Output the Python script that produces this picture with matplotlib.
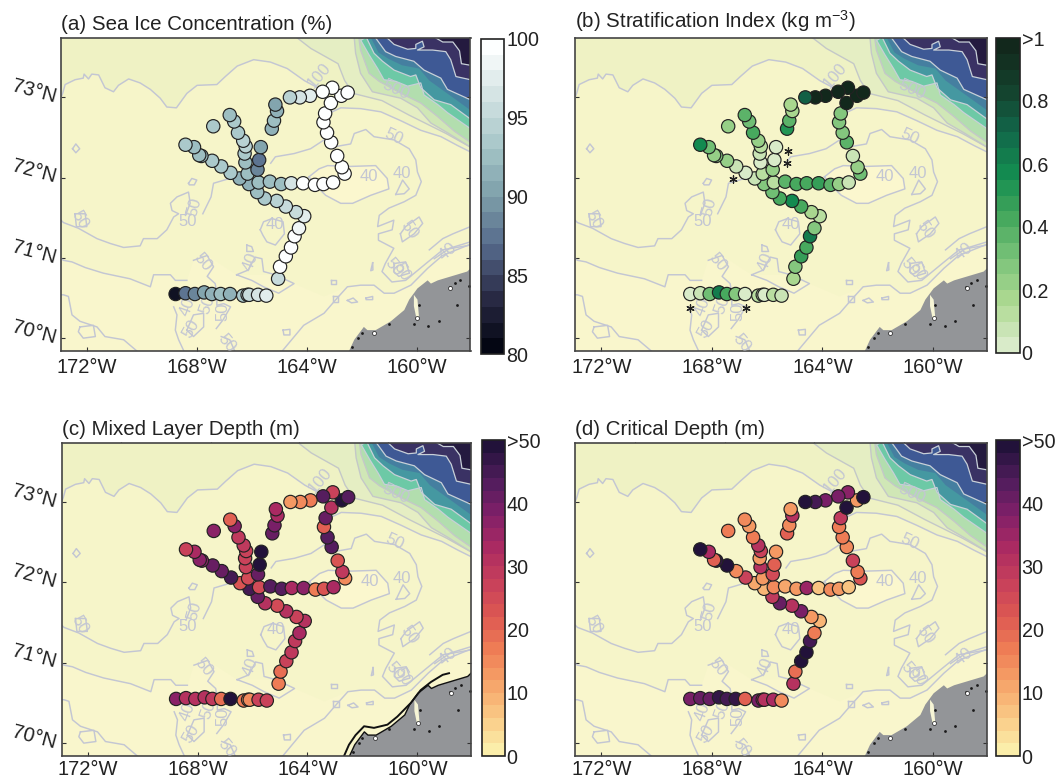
import numpy as np
import matplotlib
matplotlib.use('Agg')
import matplotlib.pyplot as plt
from matplotlib.colors import LinearSegmentedColormap

plt.rcParams['font.family'] = ['Liberation Sans', 'DejaVu Sans']
plt.rcParams['mathtext.default'] = 'regular'

# stations: bottom leg, long NW leg, E-W leg, east leg, three branches, single one
station_lon = [-168.78, -168.42, -168.08, -167.74, -167.46, -167.14, -166.80, -166.32, -166.16, -166.10, -165.78, -165.48,
               -165.05, -164.98, -164.77, -164.58, -164.45, -164.29, -164.10, -164.40, -164.77, -165.10, -165.54,
               -165.81, -166.11, -166.45, -166.78, -167.12, -167.45, -167.84, -167.92, -168.11, -168.42,
               -165.76, -165.35, -164.94, -164.57, -164.14, -163.71, -163.40, -163.05,
               -162.63, -162.73, -162.90, -163.12, -163.27, -163.40, -163.34, -163.13, -162.75, -162.52, -163.08, -163.43, -163.89, -164.26, -164.62,
               -165.28, -165.20, -165.09, -165.15,
               -166.16, -165.80, -165.74, -165.68,
               -166.24, -166.27, -166.23, -166.32, -166.51, -166.65, -166.81,
               -167.41]
station_lat = [70.55, 70.56, 70.55, 70.57, 70.55, 70.55, 70.55, 70.53, 70.54, 70.54, 70.54, 70.53,
               70.74, 70.89, 71.02, 71.13, 71.27, 71.37, 71.52, 71.57, 71.64, 71.71, 71.74,
               71.82, 71.92, 71.99, 72.06, 72.14, 72.21, 72.27, 72.28, 72.38, 72.41,
               71.94, 71.95, 71.92, 71.93, 71.93, 71.91, 71.92, 71.94,
               72.05, 72.13, 72.27, 72.44, 72.56, 72.69, 72.80, 72.93, 73.02, 73.06, 73.12, 73.07, 73.02, 73.00, 73.00,
               72.61, 72.71, 72.83, 72.91,
               72.05, 72.10, 72.22, 72.38,
               72.19, 72.30, 72.39, 72.46, 72.56, 72.70, 72.78,
               72.64]

ice_conc = [81, 87, 88, 90, 91.5, 92, 91, 93, 94, 95, 96, 97.5,
            95, 100, 100, 100, 99, 98, 97, 95.5, 95, 94, 93,
            92, 91, 91, 93, 93, 93, 92, 92, 92.5, 93,
            92.5, 92.5, 92, 96, 100, 100, 100, 100,
            100, 100, 100, 100, 100, 100, 100, 100, 100, 100, 100, 99.5, 97.5, 96.5, 94,
            91.5, 92, 91.5, 90.5,
            92, 88.5, 87.5, 90,
            92.5, 93.5, 94, 94, 93.5, 93, 92,
            93]
strat_index = [0.03, 0.08, 0.30, 0.60, 0.42, 0.25, 0.03, 0.10, 0.05, 0.04, 0.12, 0.08,
               0.18, 0.28, 0.47, 0.40, 0.62, 0.25, 0.12, 0.15, 0.42, 0.55, 0.42,
               0.33, 0.28, 0.07, 0.04, 0.05, 0.20, 0.25, 0.20, 0.30, 0.55,
               0.13, 0.38, 0.40, 0.42, 0.45, 0.35, 0.22, 0.05,
               0.30, 0.20, 0.07, 0.35, 0.28, 0.28, 0.28, 1.0, 0.98, 1.0, 1.0, 1.0, 1.0, 1.0, 0.70,
               0.52, 0.38, 0.15, 0.15,
               0.13, 0.20, 0.04, 0.04,
               0.04, 0.05, 0.12, 0.20, 0.40, 0.30, 0.35,
               0.22]
mixed_layer = [37, 31, 30, 30, 28, 18, 50, 17, 14, 14, 27, 27,
               16, 18, 26, 29, 28, 33, 30, 27, 30, 25, 30,
               41, 44, 22, 44, 40, 40, 37, 36, 32, 27,
               25, 43, 42, 33, 37, 17, 22, 33,
               14, 28, 22, 42, 43, 21, 40, 30, 50, 42, 27, 42, 17, 14, 12,
               41, 38, 33, 32,
               25, 40, 50, 50,
               27, 26, 27, 29, 28, 37, 20,
               36]
critical_depth = [38, 40, 40, 47, 44, 47, 20, 38, 33, 30, 32, 14,
                  30, 18, 50, 48, 45, 17, 9, 12, 38, 30, 40,
                  28, 9, 11, 27, 14, 48, 46, 20, 33, 50,
                  15, 11, 12, 34, 7, 14, 13, 7,
                  22, 17, 27, 14, 16, 17, 28, 50, 12, 50, 36, 38, 38, 44, 50,
                  20, 14, 30, 12,
                  13, 25, 21, 13,
                  30, 13, 27, 30, 16, 12, 14,
                  17]

# stations flagged with an asterisk in panel b
star_lon = [-165.26, -165.30, -167.24, -168.79, -166.78]
star_lat = [72.33, 72.18, 71.98, 70.38, 70.38]

# isobaths
north_shelf = [(-172.95, 73.00), (-172.89, 73.05), (-172.80, 73.16), (-172.44, 73.22), (-172.14, 73.24), (-172.11, 73.29),
               (-171.95, 73.23), (-171.83, 73.29), (-171.58, 73.28), (-171.35, 73.12), (-171.04, 73.07), (-170.86, 73.15),
               (-170.49, 73.23), (-170.07, 73.18), (-169.70, 73.10), (-169.34, 72.99), (-169.10, 72.88), (-168.75, 72.87),
               (-168.37, 73.05), (-168.00, 73.15), (-167.28, 73.16), (-166.97, 73.26), (-166.54, 73.39), (-165.94, 73.47),
               (-165.33, 73.44), (-164.72, 73.36), (-164.10, 73.21), (-163.61, 73.12), (-163.30, 72.96), (-163.08, 72.82),
               (-162.77, 72.87), (-162.05, 72.86), (-161.31, 72.82), (-160.59, 72.71), (-159.86, 72.59), (-159.12, 72.51),
               (-158.52, 72.40), (-158.05, 72.32)]
basin_50 = [(-165.32, 72.18), (-165.15, 72.26), (-164.47, 72.30), (-163.87, 72.36), (-163.38, 72.47), (-163.08, 72.38),
            (-162.41, 72.42), (-162.28, 72.55), (-161.86, 72.60), (-161.56, 72.51), (-160.83, 72.47), (-160.28, 72.36),
            (-160.04, 72.22), (-159.98, 72.07), (-159.84, 71.95), (-160.04, 71.78), (-160.46, 71.70), (-161.02, 71.62),
            (-161.37, 71.53), (-161.43, 71.39), (-160.84, 71.47), (-160.90, 71.35), (-161.40, 71.30), (-161.40, 71.22),
            (-160.84, 71.12), (-161.15, 70.93), (-161.27, 70.83), (-160.91, 70.70), (-160.41, 70.72), (-159.67, 70.93),
            (-159.06, 71.10), (-158.05, 71.16)]
basin_40 = [(-163.93, 72.01), (-163.56, 72.11), (-163.25, 72.15), (-162.41, 72.14), (-161.50, 72.15), (-161.08, 71.99),
            (-161.02, 71.86), (-161.68, 71.78), (-162.34, 71.68), (-162.77, 71.68), (-163.32, 71.78), (-163.56, 71.86),
            (-163.93, 72.01)]
coast_40 = [(-164.90, 69.84), (-164.12, 70.16), (-163.38, 70.31), (-162.90, 70.50), (-162.53, 70.64), (-162.05, 70.66),
            (-161.56, 70.66), (-161.19, 70.56), (-160.83, 70.56), (-160.22, 70.66), (-159.61, 70.87), (-159.07, 71.03),
            (-158.27, 71.14), (-158.05, 71.17)]
south_line = [(-172.95, 70.99), (-172.86, 70.97), (-172.55, 70.95), (-172.07, 70.88), (-171.41, 70.81), (-170.44, 70.74),
              (-169.70, 70.64), (-169.58, 70.79), (-168.97, 70.79), (-168.79, 70.72), (-168.37, 70.72)]
mid_line = [(-172.95, 71.47), (-172.86, 71.44), (-172.32, 71.37), (-171.64, 71.24), (-171.16, 71.18), (-170.67, 71.13),
            (-170.07, 71.15), (-169.95, 71.24), (-169.45, 71.24), (-169.10, 71.35), (-168.85, 71.51), (-168.67, 71.55),
            (-168.91, 71.59), (-168.97, 71.68), (-168.73, 71.76), (-168.31, 71.82), (-168.25, 71.68), (-168.42, 71.53)]
west_low = [(-172.95, 70.54), (-172.86, 70.54), (-172.68, 70.52), (-172.55, 70.29), (-172.26, 70.21), (-171.64, 70.14),
            (-171.35, 70.02), (-170.67, 69.98), (-170.19, 69.84)]
# edge of the paler water near the coast
pale_edge = [(-168.13, 70.97), (-167.63, 71.03), (-166.56, 70.79), (-165.15, 70.79), (-164.47, 70.68), (-163.38, 70.52), (-162.53, 70.64)]
small_isobaths = [
    [(-167.79, 71.55), (-167.49, 71.76), (-167.40, 71.93), (-166.81, 71.99)],
    [(-165.70, 71.35), (-165.58, 71.45), (-165.27, 71.49), (-164.87, 71.45), (-164.82, 71.30), (-165.15, 71.16), (-165.46, 71.20), (-165.60, 71.28), (-165.70, 71.35)],
    [(-172.53, 72.36), (-172.41, 72.42), (-172.27, 72.36), (-172.41, 72.31), (-172.53, 72.36)],
    [(-168.31, 71.93), (-168.19, 71.99), (-168.01, 71.97), (-168.10, 71.91), (-168.28, 71.91), (-168.31, 71.93)],
    [(-172.44, 71.55), (-172.07, 71.55), (-172.01, 71.39), (-172.39, 71.39), (-172.44, 71.55)],
    [(-172.26, 70.14), (-171.77, 70.16), (-171.70, 70.02), (-172.14, 70.00), (-172.32, 70.08), (-172.26, 70.14)],
    [(-168.85, 70.39), (-168.73, 70.29), (-168.79, 70.10), (-168.67, 69.98), (-168.48, 69.84)],
    [(-168.37, 70.10), (-168.13, 70.29), (-167.76, 70.31), (-167.76, 70.14), (-168.13, 70.02), (-168.37, 70.10)],
    [(-167.12, 70.02), (-166.81, 69.98), (-166.63, 69.84)],
    [(-168.13, 70.97), (-167.63, 71.03), (-167.40, 70.89), (-167.63, 70.77), (-167.34, 70.68), (-167.28, 70.56), (-167.28, 70.41),
     (-167.03, 70.43), (-166.78, 70.39), (-167.05, 70.23), (-167.30, 70.12)],
    [(-166.56, 70.79), (-166.13, 70.85), (-165.89, 71.01), (-165.64, 70.99), (-165.58, 70.83), (-165.15, 70.79), (-164.47, 70.68),
     (-165.03, 70.56), (-165.58, 70.64), (-166.01, 70.72), (-166.56, 70.79)],
    [(-166.19, 71.16), (-166.01, 71.14), (-165.95, 71.08), (-166.19, 71.08), (-166.19, 71.16)],
    [(-164.87, 70.10), (-164.62, 70.11), (-164.62, 70.04), (-164.84, 70.04), (-164.87, 70.10)],
    [(-163.14, 70.73), (-162.93, 70.73), (-162.93, 70.68), (-163.14, 70.68), (-163.14, 70.73)],
    [(-163.06, 70.52), (-162.87, 70.52), (-162.87, 70.45), (-163.06, 70.45), (-163.06, 70.52)],
    [(-162.53, 70.47), (-162.32, 70.50), (-162.16, 70.45), (-162.38, 70.44), (-162.53, 70.47)],
    [(-161.85, 70.50), (-161.61, 70.52), (-161.61, 70.48), (-161.85, 70.48), (-161.85, 70.50)],
    [(-161.61, 70.94), (-161.60, 70.85), (-161.68, 70.84), (-161.61, 70.94)],
    [(-160.83, 70.93), (-160.41, 70.95), (-160.27, 70.81), (-160.66, 70.77), (-160.84, 70.83), (-160.83, 70.93)],
    [(-160.60, 71.30), (-160.41, 71.39), (-159.92, 71.51), (-159.79, 71.43), (-160.10, 71.30), (-160.53, 71.20), (-160.60, 71.30)],
    [(-160.77, 71.79), (-160.52, 71.97), (-160.28, 71.86), (-160.46, 71.80), (-160.77, 71.79)],
    [(-159.55, 71.10), (-159.06, 71.24), (-158.69, 71.30), (-158.05, 71.39)],
    [(-158.05, 71.20), (-158.81, 71.12), (-159.37, 70.99)],
]

# contour labels: text, lon, lat, rotation
iso_text = ['50', '40', '40', '100', '40', '40', '50', '50', '50', '50', '40', '50', '50', '50', '50', '50', '50', '40', '50', '500']
iso_lon = [-160.84, -161.74, -160.56, -163.55, -165.15, -166.07, -167.79, -168.10, -168.35, -172.28, -168.35, -167.61, -167.06, -166.93, -168.22, -160.84, -160.54, -158.88, -160.29, -160.77]
iso_lat = [72.51, 72.01, 72.05, 73.27, 71.41, 70.95, 70.95, 71.64, 71.45, 71.47, 70.39, 70.41, 70.33, 69.94, 70.12, 70.89, 70.83, 71.08, 71.35, 73.10]
iso_rot = [-25, 0, 0, 50, 0, 70, -50, 75, 0, -60, 70, 70, 90, -50, 60, -50, -60, 40, -55, -25]

# deep water bands, shallow to deep, each closed through the NE corner
band_p1 = [(-164.35, 73.74), (-163.86, 73.61), (-162.87, 73.42), (-162.63, 73.21), (-162.32, 73.05), (-161.27, 72.96), (-160.29, 72.78), (-158.94, 72.55), (-158.05, 72.38)]
band_p2 = [(-162.28, 73.74), (-162.23, 73.55), (-162.05, 73.30), (-161.62, 73.07), (-160.59, 72.99), (-159.98, 72.87), (-159.49, 72.68), (-158.89, 72.56), (-158.05, 72.38)]
band_p3 = [(-162.11, 73.74), (-162.05, 73.59), (-161.74, 73.30), (-161.37, 73.20), (-160.46, 73.03), (-159.86, 72.93), (-159.24, 72.76), (-158.64, 72.58), (-158.05, 72.44)]
band_mint = [(-161.90, 73.74), (-162.04, 73.71), (-161.74, 73.53), (-161.43, 73.36), (-161.20, 73.22), (-160.77, 73.20), (-160.34, 73.14), (-159.86, 73.18), (-159.74, 73.03), (-159.24, 72.91), (-158.89, 72.81), (-158.05, 72.61)]
band_teal = [(-161.83, 73.74), (-161.56, 73.55), (-161.25, 73.45), (-160.83, 73.34), (-160.23, 73.26), (-160.04, 73.28), (-159.86, 73.12), (-159.37, 72.97), (-158.77, 72.91), (-158.05, 72.73)]
band_steel = [(-161.67, 73.74), (-161.40, 73.56), (-161.03, 73.48), (-160.54, 73.40), (-159.92, 73.36), (-159.55, 73.21), (-159.06, 73.09), (-158.05, 72.84)]
band_blue = [(-161.50, 73.74), (-161.14, 73.57), (-160.77, 73.51), (-160.11, 73.45), (-159.74, 73.34), (-159.13, 73.24), (-158.89, 73.10), (-158.05, 72.97)]
band_purple = [(-161.08, 73.74), (-160.83, 73.66), (-160.34, 73.60), (-160.04, 73.61), (-160.04, 73.66), (-159.80, 73.70), (-159.74, 73.63), (-159.98, 73.59), (-159.43, 73.59), (-158.95, 73.57), (-158.77, 73.47), (-158.58, 73.26), (-158.05, 73.22)]
band_dark = [(-159.31, 73.74), (-159.06, 73.69), (-158.69, 73.69), (-158.45, 73.58), (-158.38, 73.42), (-158.05, 73.40)]
band_colors = ['#e5eec3', '#d0e7b6', '#b2deae', '#6dc9a6', '#4598a1', '#457fa0', '#3e5995', '#3a3264', '#241a3f']

# Alaska
land = [(-162.47, 69.84), (-162.28, 69.98), (-161.93, 70.14), (-161.80, 70.10), (-161.50, 70.10), (-160.95, 70.21), (-160.46, 70.35),
        (-160.28, 70.48), (-159.98, 70.62), (-159.61, 70.72), (-159.49, 70.68), (-159.24, 70.72), (-158.17, 70.83), (-158.05, 70.87),
        (-158.05, 69.84)]
lagoon = [(-160.11, 70.54), (-159.98, 70.48), (-159.92, 70.25), (-160.02, 70.25), (-160.11, 70.40)]
lake_lon = [-159.92, -160.11, -159.58, -159.21, -158.54, -158.81, -158.63, -158.42, -158.10, -162.01, -162.13, -162.36, -161.03]
lake_lat = [70.41, 70.18, 70.15, 70.21, 70.41, 70.64, 70.69, 70.72, 70.65, 70.06, 70.00, 69.89, 70.18]
pond_lon = [-161.55, -159.98, -158.79]
pond_lat = [70.06, 70.25, 70.62]
barrier = [(-162.67, 69.84), (-162.49, 69.98), (-162.25, 70.10), (-161.94, 70.21), (-161.58, 70.19), (-161.09, 70.23), (-160.73, 70.33),
           (-160.24, 70.50), (-159.88, 70.66), (-159.51, 70.76), (-159.08, 70.85), (-158.85, 70.87)]

lon_ticks = [-172, -168, -164, -160]
lon_labels = ['172°W', '168°W', '164°W', '160°W']
lat_ticks = [70, 71, 72, 73]
lat_labels = ['70°N', '71°N', '72°N', '73°N']
lon_ticks_top = [-170.78, -167.52, -164.31, -161.06]

ice_cmap = LinearSegmentedColormap.from_list('ice', ['#040613', '#2a2b46', '#55688a', '#7d9fa9', '#a6c6c8', '#d3e3e3', '#fdffff'], N=20)
green_cmap = LinearSegmentedColormap.from_list('alg', ['#d9ebc9', '#aed992', '#7cc47a', '#44a75c', '#138c50', '#12664a', '#14402c', '#12281c'], N=20)
matter_cmap = LinearSegmentedColormap.from_list('mat', ['#fbeeaa', '#f9c884', '#f6a268', '#ee7c55', '#dc5752', '#c63f5b', '#aa2a62', '#7f1f69', '#4f1d5c', '#22123a'], N=25)

XLIM = (-172.95, -158.05)
YLIM = (69.84, 73.74)
W, H = 1056, 778
GRID = '#c3c6d3'
FS = 14.5


def px_axes(x0, y0, x1, y1):
    return fig.add_axes([x0 / W, 1 - y1 / H, (x1 - x0) / W, (y1 - y0) / H])


def closed_band(pts):
    xs = [p[0] for p in pts] + [XLIM[1], pts[0][0]]
    ys = [p[1] for p in pts] + [YLIM[1], YLIM[1]]
    return xs, ys


def draw_map(ax, show_lat, coast=False, xpad=5):
    ax.set_facecolor('#f6f5c9')
    # paler water towards the coast
    south = south_line + pale_edge + coast_40[5:]
    ax.fill([p[0] for p in south] + [XLIM[1], XLIM[0]], [p[1] for p in south] + [YLIM[0], YLIM[0]], color='#f9f6cc', lw=0)
    ax.fill([p[0] for p in basin_40], [p[1] for p in basin_40], color='#fbf7ce', lw=0)

    # slope region north of the shelf line
    nx = [p[0] for p in north_shelf] + [XLIM[1], XLIM[0]]
    ny = [p[1] for p in north_shelf] + [YLIM[1], YLIM[1]]
    ax.fill(nx, ny, color='#eff2c4', lw=0)

    bands = [band_p1, band_p2, band_p3, band_mint, band_teal, band_steel, band_blue, band_purple, band_dark]
    for pts, col in zip(bands, band_colors):
        xs, ys = closed_band(pts)
        ax.fill(xs, ys, color=col, lw=0)
    for pts in bands[:3]:
        ax.plot([p[0] for p in pts], [p[1] for p in pts], color='#c4c8c8', lw=1.0)
    for pts in [band_mint, band_teal, band_blue, band_purple, band_dark]:
        ax.plot([p[0] for p in pts], [p[1] for p in pts], color='#c8d0d8', lw=0.9)

    lines = [north_shelf, basin_50, basin_40, coast_40, south_line, mid_line, west_low] + small_isobaths
    for pts in lines:
        ax.plot([p[0] for p in pts], [p[1] for p in pts], color=GRID, lw=1.05)
    for t, x, y, r in zip(iso_text, iso_lon, iso_lat, iso_rot):
        ax.text(x, y, t, color=GRID, fontsize=12, rotation=r, ha='center', va='center')

    ax.fill([p[0] for p in land], [p[1] for p in land], color='#939598', lw=0)
    ax.fill([p[0] for p in lagoon], [p[1] for p in lagoon], color='#f6f5d5', lw=0)
    ax.scatter(lake_lon, lake_lat, s=4, c='#1a1a1a', marker='o', lw=0)
    ax.scatter(pond_lon, pond_lat, s=8, c='white', edgecolors='#1a1a1a', lw=0.5)
    if coast:
        ax.plot([p[0] for p in barrier], [p[1] for p in barrier], color='#111111', lw=1.4)
        ax.plot([p[0] for p in land[:14]], [p[1] for p in land[:14]], color='#111111', lw=1.0)

    ax.set_xlim(XLIM)
    ax.set_ylim(YLIM)
    ax.set_xticks(lon_ticks)
    ax.set_xticklabels(lon_labels, fontsize=FS)
    ax.set_yticks(lat_ticks)
    if show_lat:
        ax.set_yticklabels(lat_labels, fontsize=FS, rotation=-15, rotation_mode='anchor', ha='right', va='center')
    else:
        ax.set_yticklabels([])
    ax.tick_params(axis='x', direction='in', length=3, width=0.8, pad=xpad, color='#333333', labelcolor='#222222')
    ax.tick_params(axis='y', direction='in', length=3, width=0.8, pad=4, right=True, color='#333333', labelcolor='#222222')
    top = ax.secondary_xaxis('top')
    top.set_xticks(lon_ticks_top)
    top.set_xticklabels([])
    top.tick_params(direction='in', length=3, width=0.8, color='#333333')
    top.spines['top'].set_visible(False)
    for s in ax.spines.values():
        s.set_linewidth(1.2)
        s.set_color('#444444')


def add_panel(box, cbox, values, cmap, vmin, vmax, cticks, clabels, title, show_lat, coast=False, xpad=5):
    ax = px_axes(*box)
    draw_map(ax, show_lat, coast, xpad)
    sc = ax.scatter(station_lon, station_lat, c=values, cmap=cmap, vmin=vmin, vmax=vmax,
                    s=92, edgecolors='#222222', linewidths=0.85, zorder=5)
    ax.text(0, 1.012, title, transform=ax.transAxes, fontsize=14.8, color='#222222', ha='left', va='bottom')
    cax = px_axes(*cbox)
    cb = fig.colorbar(sc, cax=cax, ticks=cticks)
    cb.ax.set_yticklabels(clabels, fontsize=14.2, color='#222222')
    cb.ax.tick_params(length=0, pad=1.5)
    cb.outline.set_linewidth(1.2)
    cb.outline.set_edgecolor('#222222')
    return ax


fig = plt.figure(figsize=(W / 100, H / 100), dpi=100)

add_panel((61, 38, 470.5, 351), (481, 39, 504, 354), ice_conc, ice_cmap, 80, 100,
          [80, 85, 90, 95, 100], ['80', '85', '90', '95', '100'], '(a) Sea Ice Concentration (%)', True)
ax_b = add_panel((575, 38, 987, 351), (996, 38, 1019.5, 353), strat_index, green_cmap, 0, 1,
                 [0, 0.2, 0.4, 0.6, 0.8, 1], ['0', '0.2', '0.4', '0.6', '0.8', '>1'],
                 '(b) Stratification Index (kg m$^{-3}$)', False)
ax_b.scatter(star_lon, star_lat, marker=(6, 2, 0), s=28, c='#222222', linewidths=0.9, zorder=6)
add_panel((61.5, 442.5, 471, 756), (481.5, 440, 504.5, 756), mixed_layer, matter_cmap, 0, 50,
          [0, 10, 20, 30, 40, 50], ['0', '10', '20', '30', '40', '>50'], '(c) Mixed Layer Depth (m)', True, coast=True, xpad=3)
add_panel((575, 442.5, 987, 756), (996, 440, 1019.5, 756), critical_depth, matter_cmap, 0, 50,
          [0, 10, 20, 30, 40, 50], ['0', '10', '20', '30', '40', '>50'], '(d) Critical Depth (m)', False, xpad=3)

fig.savefig('out.png', dpi=100)
